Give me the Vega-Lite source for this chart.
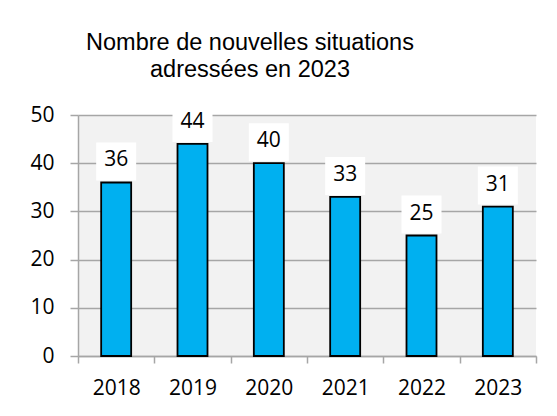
{
  "$schema": "https://vega.github.io/schema/vega-lite/v6.json",
  "width": 458,
  "height": 241,
  "autosize": {"type": "none"},
  "padding": {"left": 78, "top": 115, "right": 21, "bottom": 60},
  "background": "white",
  "title": {
    "text": ["Nombre de nouvelles situations", "adressées en 2023"],
    "font": "Liberation Sans",
    "fontSize": 23.5,
    "fontWeight": "normal",
    "color": "black",
    "anchor": "middle",
    "lineHeight": 27,
    "dx": -57,
    "offset": 22
  },
  "data": {
    "values": [
      {"year": "2018", "count": 36},
      {"year": "2019", "count": 44},
      {"year": "2020", "count": 40},
      {"year": "2021", "count": 33},
      {"year": "2022", "count": 25},
      {"year": "2023", "count": 31}
    ]
  },
  "encoding": {
    "x": {
      "field": "year",
      "type": "nominal",
      "scale": {"paddingInner": 0, "paddingOuter": 0},
      "axis": {
        "title": null,
        "labelAngle": 0,
        "labelFont": "Open Sans",
        "labelFontSize": 21,
        "labelColor": "black",
        "labelPadding": 14,
        "tickBand": "extent",
        "tickSize": 7,
        "tickColor": "#A6A6A6",
        "domainColor": "#A6A6A6",
        "tickWidth": 1.5,
        "domainWidth": 1.5
      }
    },
    "y": {
      "field": "count",
      "type": "quantitative",
      "scale": {"domain": [0, 50]},
      "axis": {
        "title": null,
        "values": [0, 10, 20, 30, 40, 50],
        "labelFont": "Open Sans",
        "labelFontSize": 21,
        "labelColor": "black",
        "labelPadding": 16,
        "tickSize": 8,
        "tickColor": "#A6A6A6",
        "domainColor": "#A6A6A6",
        "gridColor": "#A6A6A6",
        "tickWidth": 1.5,
        "domainWidth": 1.5,
        "gridWidth": 1.5
      }
    }
  },
  "layer": [
    {
      "mark": {"type": "bar", "width": 30, "fill": "#00B0F0", "stroke": "black", "strokeWidth": 1.8}
    },
    {
      "mark": {"type": "point", "shape": "M-1,-0.95H1V0.95H-1Z", "size": 1600, "filled": true, "fill": "white", "opacity": 1, "strokeWidth": 0, "yOffset": -21}
    },
    {
      "mark": {"type": "text", "font": "Open Sans", "fontSize": 21, "color": "black", "baseline": "middle", "yOffset": -22},
      "encoding": {"text": {"field": "count", "type": "quantitative"}}
    }
  ],
  "config": {
    "view": {"fill": "#F2F2F2", "stroke": null}
  }
}
